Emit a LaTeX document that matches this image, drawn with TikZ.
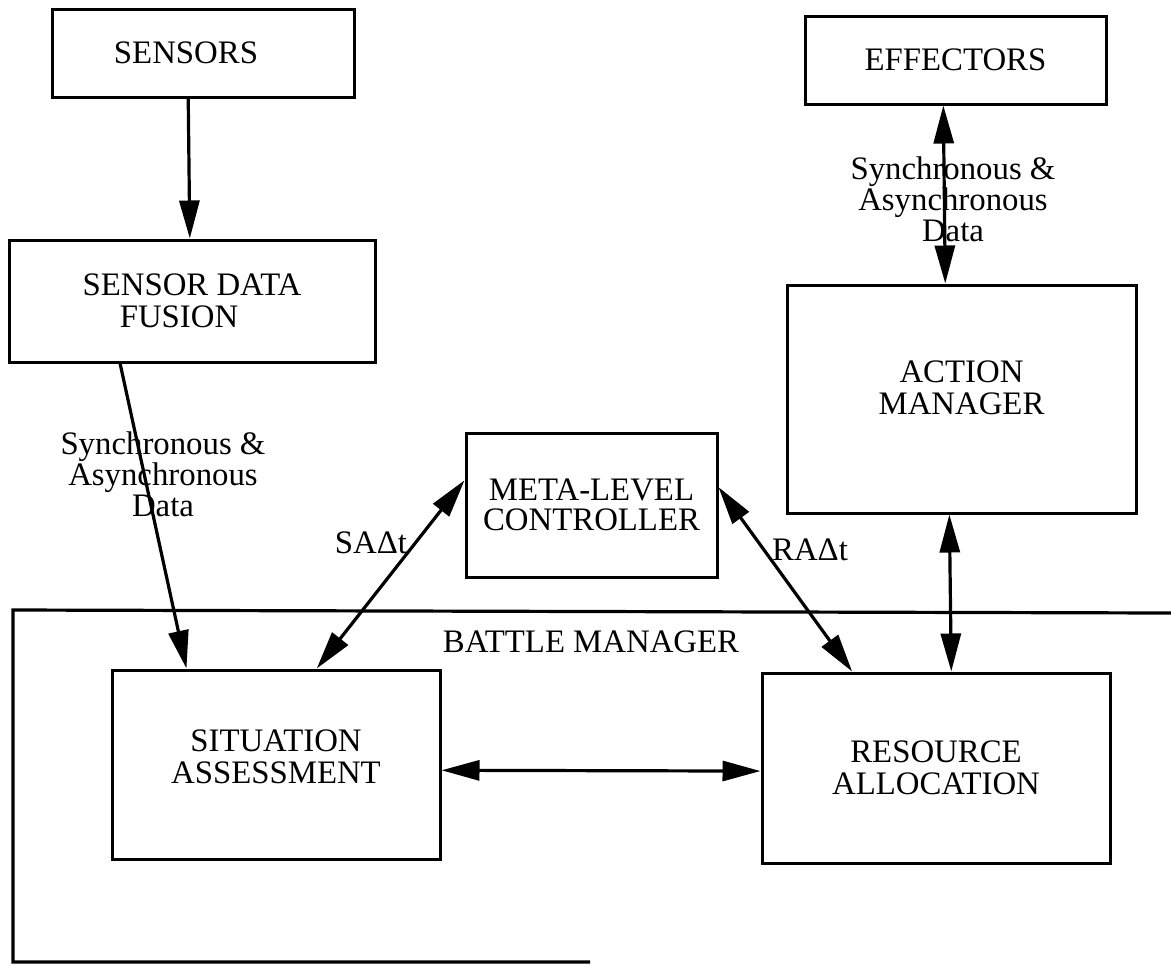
\documentclass[tikz,border=0pt]{standalone}
\usepackage{fontspec}
\setmainfont{Liberation Serif}
\usetikzlibrary{arrows.meta}
\begin{document}
\begin{tikzpicture}[x=0.5pt,y=-0.5pt,
  box/.style={draw, line width=1.5pt, inner sep=0pt, align=center, font=\fontsize{16.4}{16}\selectfont},
  lbl/.style={align=center, inner sep=0pt, font=\fontsize{16.4}{15.5}\selectfont},
  tip/.tip={Triangle[length=19pt,width=10pt]},
  conn/.style={line width=1.6pt, -tip},
  biconn/.style={line width=1.6pt, tip-tip}]
\useasboundingbox (0,0) rectangle (1171,964);

% battle manager frame (open on the right)
\draw[line width=1.6pt] (1171,613) -- (13,610) -- (13,962) -- (590,962);
\node[lbl, font=\fontsize{16.4}{16}\selectfont] (bm) at (591,642) {BATTLE MANAGER};

% boxes
\node[box, minimum width=151pt, minimum height=44pt] (sensors) at (203,53) {SENSORS\hspace*{17pt}};
\node[box, minimum width=183pt, minimum height=61pt] (sdf) at (192,301) {SENSOR DATA\\FUSION\hspace*{13pt}};
\node[box, minimum width=150.5pt, minimum height=44pt] (eff) at (955.5,60) {EFFECTORS};
\node[box, minimum width=174.5pt, minimum height=114pt, text depth=11pt] (am) at (961.5,399) {ACTION\\MANAGER};
\node[box, minimum width=125.5pt, minimum height=72pt, font=\fontsize{16.4}{15.2}\selectfont] (mlc) at (591.5,505) {META-LEVEL\\CONTROLLER};
\node[box, minimum width=164pt, minimum height=94.5pt, text depth=8pt] (sa) at (276,764.5) {SITUATION\\ASSESSMENT};
\node[box, minimum width=174pt, minimum height=95pt] (ra) at (936,768) {RESOURCE\\ALLOCATION};

% labels
\node[lbl] (lsdf) at (163,474) {Synchronous \&\\Asynchronous\\Data};
\node[lbl] (leff) at (953,199) {Synchronous \&\\Asynchronous\\Data};
\node[lbl] (lsa) at (371,543) {SAΔt};
\node[lbl] (lra) at (810,550) {RAΔt};

% connectors
\draw[conn] (sensors.252.4) -- (sdf.92.8);
\draw[conn] (sdf.221.9) -- (sa.133.3);
\draw[biconn] (eff.255.4) -- (am.98.7);
\draw[biconn] (am.264.2) -- (ra.81.6);
\draw[biconn] (mlc.169) -- (sa.67.6);
\draw[biconn] (mlc.8.1) -- (ra.131.1);
\draw[biconn] (sa.-2.3) -- (ra.181);
\end{tikzpicture}
\end{document}
